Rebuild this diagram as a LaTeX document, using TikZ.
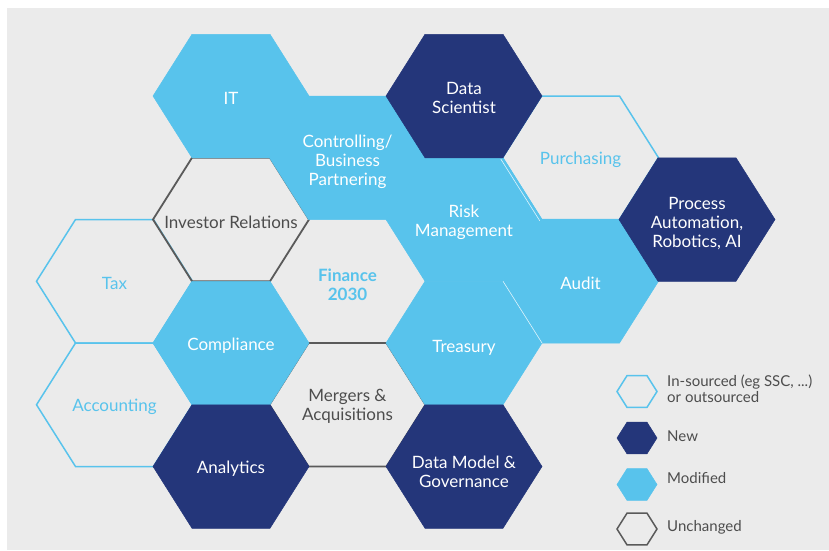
\documentclass[tikz,border=0pt]{standalone}
\usepackage{fontspec}
\setmainfont{Lato}
\definecolor{lblue}{HTML}{58C3EC}
\definecolor{navy}{HTML}{24367A}
\definecolor{bggray}{HTML}{EBEBEB}
\definecolor{hexgray}{HTML}{5A5A5A}
\definecolor{txtgray}{HTML}{4D4D4D}
\tikzset{
  pics/hexa/.style={code={\path[pic actions] (78,0) -- (39,61.75) -- (-39,61.75) -- (-78,0) -- (-39,-61.75) -- (39,-61.75) -- cycle;}},
  modfill/.style={fill=lblue, draw=lblue, line width=0.5pt},
  newfill/.style={fill=navy, draw=navy, line width=0.5pt},
  insrc/.style={draw=lblue, line width=1.5pt},
  unch/.style={draw=hexgray, line width=1.8pt},
  maintxt/.style={align=center, inner sep=0pt, yshift=-2.5pt, font=\fontsize{17}{19}\selectfont},
  wtxt/.style={maintxt, text=white},
  btxt/.style={maintxt, text=lblue},
  gtxt/.style={maintxt, text=txtgray},
  legtxt/.style={text=txtgray, anchor=west, align=left, inner sep=0pt, font=\fontsize{15}{16}\selectfont},
  seam/.style={draw=white, line width=0.6pt, opacity=0.8},
  leghex/.style={scale=0.2564}
}
\begin{document}
\begin{tikzpicture}[x=1pt, y=-1pt]
\useasboundingbox (0,0) rectangle (829,550);
\fill[white] (0,0) rectangle (829,550);
\fill[bggray] (7,8) rectangle (829,550);
% columns and rows
\def\cA{114.5}\def\cB{231}\def\cC{347.5}\def\cD{464}\def\cE{580.5}\def\cF{697}
\def\rA{96}\def\rB{157.75}\def\rC{219.5}\def\rD{281.25}\def\rE{343}\def\rF{404.75}\def\rG{466.5}
% outlined (in-sourced)
\pic[insrc] at (\cE,\rB) {hexa};
\pic[insrc] at (\cA,\rD) {hexa};
\pic[insrc] at (\cA,\rF) {hexa};
% unchanged
\pic[unch] at (\cB,\rC) {hexa};
\pic[unch] at (\cC,\rF) {hexa};
% modified
\pic[modfill] at (\cB,\rA) {hexa};
\pic[modfill] at (\cC,\rB) {hexa};
\pic[modfill] at (\cD,\rC) {hexa};
\pic[modfill] at (\cE,\rD) {hexa};
\pic[modfill] at (\cD,\rE) {hexa};
\pic[modfill] at (\cB,\rE) {hexa};
% new
\pic[newfill] at (\cD,\rA) {hexa};
\pic[newfill] at (\cF,\rC) {hexa};
\pic[newfill] at (\cB,\rG) {hexa};
\pic[newfill] at (\cD,\rG) {hexa};
% faint seams
\draw[seam] (503,281.25) -- (542,343);
\draw[seam] (500.8,159.1) -- (539.8,220.85);
% texts
\node[wtxt] (it) at (\cB,\rA) {IT};
\node[wtxt] (ctrl) at (\cC,159) {Controlling/\\Business\\Partnering};
\node[wtxt] (ds) at (\cD,95) {Data\\Scientist};
\node[btxt] (pur) at (\cE,\rB) {Purchasing};
\node[wtxt] (pa) at (\cF,221) {Process\\Automation,\\Robotics, AI};
\node[gtxt] (ir) at (\cB,\rC) {Investor Relations};
\node[wtxt] (risk) at (\cD,\rC) {Risk\\Management};
\node[btxt] (tax) at (\cA,\rD) {Tax};
\node[btxt, font=\fontsize{17}{19}\selectfont\bfseries] (fin) at (\cC,282) {Finance\\2030};
\node[wtxt] (audit) at (\cE,\rD) {Audit};
\node[wtxt] (comp) at (\cB,\rE) {Compliance};
\node[wtxt] (tre) at (\cD,345) {Treasury};
\node[btxt] (acc) at (\cA,\rF) {Accounting};
\node[gtxt] (ma) at (\cC,404) {Mergers \&\\Acquisitions};
\node[wtxt] (ana) at (\cB,\rG) {Analytics};
\node[wtxt] (dm) at (\cD,469) {Data Model \&\\Governance};
% legend
\pic[insrc, line width=1.5pt, leghex] at (637,391.5) {hexa};
\pic[newfill, leghex] at (637,438) {hexa};
\pic[modfill, leghex] at (637,484.5) {hexa};
\pic[unch, line width=1.5pt, leghex] at (637,529) {hexa};
\node[legtxt] (l1) at (667,389) {In-sourced (eg SSC, ...)\\or outsourced};
\node[legtxt] (l2) at (667,436) {New};
\node[legtxt] (l3) at (667,478) {Modified};
\node[legtxt] (l4) at (667,527) {Unchanged};
\end{tikzpicture}
\end{document}
